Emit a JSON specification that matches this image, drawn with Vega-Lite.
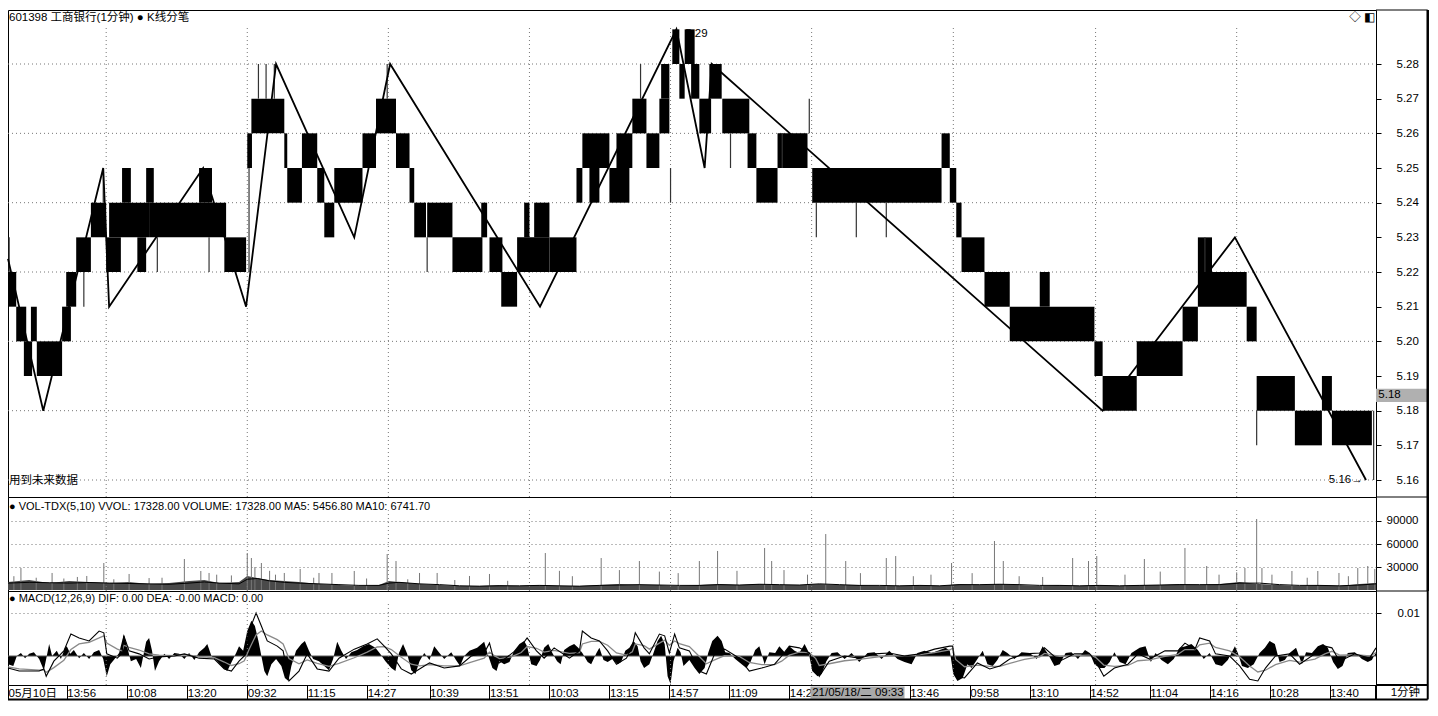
{
"$schema": "https://vega.github.io/schema/vega-lite/v6.json",
"padding": {"left": 3, "top": 8, "right": 0, "bottom": 0},
"background": "white",
"bounds": "flush",
"spacing": 0,
"config": {
  "axis": {"labelFont": "Liberation Sans", "labelFontSize": 11, "labelColor": "#000", "tickColor": "#000", "domain": false},
  "view": {"stroke": "#000", "strokeWidth": 1},
  "text": {"font": "Liberation Sans, Noto Sans CJK SC", "fontSize": 11, "align": "left", "baseline": "middle", "color": "#000"}
},
"datasets": {
  "days": [{"t":167},{"t":407},{"t":647},{"t":887},{"t":1127},{"t":1367},{"t":1608},{"t":1850},{"t":2090}],
  "pgrid": [{"t":0,"t2":2327,"p":5.16},{"t":0,"t2":2327,"p":5.18},{"t":0,"t2":2327,"p":5.20},{"t":0,"t2":2327,"p":5.22},{"t":0,"t2":2327,"p":5.24},{"t":0,"t2":2327,"p":5.26},{"t":0,"t2":2327,"p":5.28}],
  "blocks": [
{"t":0,"t2":14,"p":5.21,"p2":5.22},{"t":14,"t2":31,"p":5.20,"p2":5.21},{"t":39,"t2":49,"p":5.20,"p2":5.21},{"t":27,"t2":41,"p":5.19,"p2":5.20},{"t":49,"t2":92,"p":5.19,"p2":5.20},{"t":92,"t2":107,"p":5.20,"p2":5.21},{"t":99,"t2":116,"p":5.21,"p2":5.22},{"t":116,"t2":141,"p":5.22,"p2":5.23},{"t":141,"t2":167,"p":5.23,"p2":5.24},{"t":167,"t2":192,"p":5.22,"p2":5.23},{"t":172,"t2":240,"p":5.23,"p2":5.24},{"t":194,"t2":209,"p":5.24,"p2":5.25},{"t":220,"t2":235,"p":5.22,"p2":5.23},{"t":235,"t2":248,"p":5.24,"p2":5.25},{"t":240,"t2":371,"p":5.23,"p2":5.24},{"t":325,"t2":347,"p":5.24,"p2":5.25},{"t":368,"t2":405,"p":5.22,"p2":5.23},{"t":407,"t2":415,"p":5.25,"p2":5.26},{"t":414,"t2":470,"p":5.26,"p2":5.27},{"t":470,"t2":475,"p":5.25,"p2":5.26},{"t":475,"t2":500,"p":5.24,"p2":5.25},{"t":500,"t2":526,"p":5.25,"p2":5.26},{"t":526,"t2":538,"p":5.24,"p2":5.25},{"t":538,"t2":555,"p":5.23,"p2":5.24},{"t":555,"t2":603,"p":5.24,"p2":5.25},{"t":603,"t2":626,"p":5.25,"p2":5.26},{"t":626,"t2":660,"p":5.26,"p2":5.27},{"t":660,"t2":683,"p":5.25,"p2":5.26},{"t":683,"t2":691,"p":5.24,"p2":5.25},{"t":691,"t2":711,"p":5.23,"p2":5.24},{"t":713,"t2":756,"p":5.23,"p2":5.24},{"t":756,"t2":807,"p":5.22,"p2":5.23},{"t":805,"t2":815,"p":5.23,"p2":5.24},{"t":819,"t2":841,"p":5.22,"p2":5.23},{"t":839,"t2":866,"p":5.21,"p2":5.22},{"t":866,"t2":921,"p":5.22,"p2":5.23},{"t":878,"t2":887,"p":5.23,"p2":5.24},{"t":895,"t2":921,"p":5.23,"p2":5.24},{"t":921,"t2":967,"p":5.22,"p2":5.23},{"t":967,"t2":977,"p":5.24,"p2":5.25},{"t":977,"t2":1023,"p":5.25,"p2":5.26},{"t":989,"t2":1006,"p":5.24,"p2":5.25},{"t":1023,"t2":1057,"p":5.24,"p2":5.25},{"t":1035,"t2":1062,"p":5.25,"p2":5.26},{"t":1062,"t2":1086,"p":5.26,"p2":5.27},{"t":1086,"t2":1108,"p":5.25,"p2":5.26},{"t":1108,"t2":1125,"p":5.26,"p2":5.27},{"t":1111,"t2":1125,"p":5.27,"p2":5.28},{"t":1130,"t2":1142,"p":5.28,"p2":5.29},{"t":1142,"t2":1151,"p":5.27,"p2":5.28},{"t":1151,"t2":1168,"p":5.28,"p2":5.29},{"t":1162,"t2":1176,"p":5.27,"p2":5.28},{"t":1176,"t2":1196,"p":5.26,"p2":5.27},{"t":1193,"t2":1214,"p":5.27,"p2":5.28},{"t":1215,"t2":1261,"p":5.26,"p2":5.27},{"t":1258,"t2":1273,"p":5.25,"p2":5.26},{"t":1273,"t2":1309,"p":5.24,"p2":5.25},{"t":1309,"t2":1360,"p":5.25,"p2":5.26},{"t":1368,"t2":1588,"p":5.24,"p2":5.25},{"t":1588,"t2":1602,"p":5.25,"p2":5.26},{"t":1602,"t2":1613,"p":5.24,"p2":5.25},{"t":1613,"t2":1622,"p":5.23,"p2":5.24},{"t":1622,"t2":1661,"p":5.22,"p2":5.23},{"t":1661,"t2":1704,"p":5.21,"p2":5.22},{"t":1704,"t2":1848,"p":5.20,"p2":5.21},{"t":1755,"t2":1772,"p":5.21,"p2":5.22},{"t":1848,"t2":1862,"p":5.19,"p2":5.20},{"t":1862,"t2":1920,"p":5.18,"p2":5.19},{"t":1920,"t2":1998,"p":5.19,"p2":5.20},{"t":1998,"t2":2024,"p":5.20,"p2":5.21},{"t":2024,"t2":2107,"p":5.21,"p2":5.22},{"t":2024,"t2":2048,"p":5.22,"p2":5.23},{"t":2107,"t2":2124,"p":5.20,"p2":5.21},{"t":2124,"t2":2189,"p":5.18,"p2":5.19},{"t":2189,"t2":2235,"p":5.17,"p2":5.18},{"t":2235,"t2":2252,"p":5.18,"p2":5.19},{"t":2252,"t2":2320,"p":5.17,"p2":5.18}
  ],
  "wicks": [
{"t":2,"p":5.22,"p2":5.23},{"t":129,"p":5.21,"p2":5.22},{"t":162,"p":5.24,"p2":5.25},{"t":254,"p":5.22,"p2":5.23},{"t":342,"p":5.22,"p2":5.23},{"t":410,"p":5.22,"p2":5.25},{"t":426,"p":5.27,"p2":5.28},{"t":439,"p":5.27,"p2":5.28},{"t":453,"p":5.27,"p2":5.28},{"t":645,"p":5.27,"p2":5.28},{"t":713,"p":5.22,"p2":5.23},{"t":1076,"p":5.27,"p2":5.28},{"t":1127,"p":5.24,"p2":5.25},{"t":1229,"p":5.25,"p2":5.26},{"t":1317,"p":5.25,"p2":5.26},{"t":1363,"p":5.26,"p2":5.27},{"t":1375,"p":5.23,"p2":5.24},{"t":1443,"p":5.23,"p2":5.24},{"t":1494,"p":5.23,"p2":5.24},{"t":2036,"p":5.22,"p2":5.23},{"t":2124,"p":5.17,"p2":5.18},{"t":2323,"p":5.16,"p2":5.18}
  ],
  "bi": [{"t":0,"p":5.2238},{"t":60,"p":5.18},{"t":162,"p":5.25},{"t":172,"p":5.21},{"t":332,"p":5.25},{"t":405,"p":5.21},{"t":456,"p":5.28},{"t":589,"p":5.23},{"t":650,"p":5.28},{"t":905,"p":5.21},{"t":1137,"p":5.29},{"t":1185,"p":5.25},{"t":1197,"p":5.28},{"t":1862,"p":5.18},{"t":2087,"p":5.23},{"t":2310,"p":5.16}],
  "pnotes": [{"t":0,"p":5.29327,"txt":"601398 工商银行(1分钟) ● K线分笔"},{"t":0,"p":5.1597,"txt":"用到未来数据"},{"t":2245,"p":5.16,"txt":"5.16→"},{"t":2280,"p":5.29327,"txt":"◇ ◧"}],
  "vbase": [
{"t":0,"v":10400,"m":9000},{"t":36,"v":13000,"m":10000},{"t":70,"v":9100,"m":9500},{"t":104,"v":11700,"m":9000},{"t":138,"v":10400,"m":9800},{"t":172,"v":9100,"m":9000},{"t":206,"v":10400,"m":8500},{"t":240,"v":7800,"m":8000},{"t":274,"v":9100,"m":7500},{"t":308,"v":11700,"m":9000},{"t":334,"v":13000,"m":10500},{"t":359,"v":9100,"m":9000},{"t":393,"v":10400,"m":8000},{"t":407,"v":18300,"m":14000},{"t":424,"v":15600,"m":15000},{"t":444,"v":13000,"m":12000},{"t":470,"v":11700,"m":10000},{"t":495,"v":10400,"m":9000},{"t":529,"v":7800,"m":8000},{"t":563,"v":6500,"m":7000},{"t":597,"v":5200,"m":6000},{"t":631,"v":6500,"m":6000},{"t":648,"v":11700,"m":9000},{"t":665,"v":10400,"m":10000},{"t":700,"v":7800,"m":8000},{"t":734,"v":6500,"m":7000},{"t":768,"v":5200,"m":5500},{"t":802,"v":5200,"m":5000},{"t":836,"v":6500,"m":5500},{"t":870,"v":5200,"m":5500},{"t":904,"v":6500,"m":6000},{"t":938,"v":5200,"m":5500},{"t":972,"v":5200,"m":5000},{"t":1006,"v":6500,"m":6000},{"t":1040,"v":7800,"m":6500},{"t":1074,"v":6500,"m":7000},{"t":1108,"v":6500,"m":6500},{"t":1142,"v":5200,"m":6000},{"t":1176,"v":6500,"m":6000},{"t":1210,"v":7800,"m":7000},{"t":1244,"v":6500,"m":6500},{"t":1278,"v":7800,"m":7500},{"t":1312,"v":6500,"m":7000},{"t":1346,"v":6500,"m":6500},{"t":1380,"v":7800,"m":8000},{"t":1414,"v":6500,"m":7000},{"t":1448,"v":6500,"m":6000},{"t":1482,"v":5200,"m":6000},{"t":1516,"v":5200,"m":5500},{"t":1551,"v":6500,"m":6000},{"t":1585,"v":5200,"m":5500},{"t":1619,"v":7800,"m":7000},{"t":1653,"v":6500,"m":7000},{"t":1687,"v":7800,"m":7500},{"t":1721,"v":6500,"m":7000},{"t":1755,"v":5200,"m":6000},{"t":1789,"v":6500,"m":6000},{"t":1823,"v":5200,"m":5500},{"t":1857,"v":6500,"m":6000},{"t":1891,"v":5200,"m":5500},{"t":1925,"v":6500,"m":6000},{"t":1959,"v":6500,"m":6500},{"t":1993,"v":7800,"m":7000},{"t":2027,"v":6500,"m":7000},{"t":2061,"v":7800,"m":7000},{"t":2095,"v":10400,"m":9000},{"t":2129,"v":7800,"m":9000},{"t":2163,"v":6500,"m":7000},{"t":2197,"v":5200,"m":6000},{"t":2231,"v":6500,"m":6000},{"t":2265,"v":5200,"m":5500},{"t":2299,"v":7800,"m":6500},{"t":2327,"v":9100,"m":8000}
  ],
  "spikes": [
{"t":22,"v":28700},{"t":75,"v":22200},{"t":134,"v":18300},{"t":163,"v":35200},{"t":206,"v":20900},{"t":240,"v":15600},{"t":300,"v":40400},{"t":328,"v":24800},{"t":342,"v":22200},{"t":407,"v":48200},{"t":414,"v":41700},{"t":431,"v":35200},{"t":470,"v":22200},{"t":497,"v":27400},{"t":529,"v":22200},{"t":551,"v":22200},{"t":589,"v":24800},{"t":645,"v":46900},{"t":660,"v":37800},{"t":700,"v":22200},{"t":730,"v":22200},{"t":785,"v":18300},{"t":819,"v":20900},{"t":914,"v":48200},{"t":1009,"v":41700},{"t":1074,"v":37800},{"t":1176,"v":37800},{"t":1207,"v":50900},{"t":1287,"v":54800},{"t":1299,"v":37800},{"t":1391,"v":73000},{"t":1425,"v":37800},{"t":1494,"v":41700},{"t":1510,"v":44300},{"t":1605,"v":35200},{"t":1678,"v":63900},{"t":1693,"v":37800},{"t":1811,"v":41700},{"t":1838,"v":37800},{"t":1852,"v":44300},{"t":1933,"v":40400},{"t":2002,"v":54800},{"t":2039,"v":31300},{"t":2104,"v":28700},{"t":2124,"v":92600},{"t":2133,"v":28700},{"t":2184,"v":24800},{"t":2228,"v":24800},{"t":2264,"v":22200},{"t":2296,"v":28700},{"t":2313,"v":31300},{"t":2325,"v":27400},
{"t":10,"v":18000},{"t":48,"v":16000},{"t":95,"v":15000},{"t":118,"v":17000},{"t":180,"v":14000},{"t":262,"v":16000},{"t":355,"v":20000},{"t":380,"v":19000},{"t":420,"v":30000},{"t":445,"v":25000},{"t":455,"v":20000},{"t":520,"v":16000},{"t":610,"v":15000},{"t":680,"v":14000},{"t":760,"v":13000},{"t":850,"v":12000},{"t":938,"v":25000},{"t":960,"v":18000},{"t":1040,"v":26000},{"t":1108,"v":24000},{"t":1140,"v":22000},{"t":1240,"v":25000},{"t":1320,"v":26000},{"t":1360,"v":20000},{"t":1450,"v":22000},{"t":1540,"v":18000},{"t":1570,"v":20000},{"t":1640,"v":22000},{"t":1720,"v":18000},{"t":1760,"v":17000},{"t":1900,"v":20000},{"t":1960,"v":24000},{"t":2060,"v":20000},{"t":2090,"v":23000},{"t":2150,"v":20000},{"t":2210,"v":16000},{"t":2280,"v":18000}
  ],
  "macd": [
{"t":0,"d":-28,"e":-25},{"t":19,"d":-35,"e":-30},{"t":53,"d":-35,"e":-33},{"t":61,"d":-30,"e":-32},{"t":65,"d":-47,"e":-38},{"t":78,"d":-12,"e":-27},{"t":95,"d":12,"e":-10},{"t":107,"d":51,"e":15},{"t":121,"d":42,"e":28},{"t":138,"d":35,"e":32},{"t":155,"d":58,"e":42},{"t":163,"d":54,"e":47},{"t":168,"d":5,"e":30},{"t":186,"d":-5,"e":16},{"t":194,"d":7,"e":12},{"t":197,"d":47,"e":25},{"t":206,"d":12,"e":20},{"t":223,"d":5,"e":14},{"t":240,"d":-7,"e":5},{"t":257,"d":-2,"e":2},{"t":283,"d":0,"e":1},{"t":300,"d":5,"e":3},{"t":325,"d":-5,"e":-1},{"t":351,"d":-7,"e":-4},{"t":368,"d":-30,"e":-14},{"t":380,"d":-35,"e":-22},{"t":393,"d":-12,"e":-18},{"t":402,"d":0,"e":-11},{"t":410,"d":58,"e":15},{"t":422,"d":100,"e":49},{"t":431,"d":70,"e":58},{"t":441,"d":35,"e":49},{"t":458,"d":23,"e":38},{"t":468,"d":12,"e":28},{"t":478,"d":-58,"e":-6},{"t":495,"d":-35,"e":-18},{"t":509,"d":5,"e":-9},{"t":526,"d":-30,"e":-17},{"t":546,"d":-35,"e":-24},{"t":563,"d":-5,"e":-17},{"t":589,"d":16,"e":-4},{"t":611,"d":28,"e":9},{"t":628,"d":40,"e":21},{"t":640,"d":23,"e":22},{"t":652,"d":5,"e":15},{"t":669,"d":-30,"e":-3},{"t":686,"d":-42,"e":-19},{"t":700,"d":-30,"e":-23},{"t":717,"d":-16,"e":-20},{"t":742,"d":-28,"e":-23},{"t":768,"d":-23,"e":-23},{"t":788,"d":0,"e":-14},{"t":810,"d":7,"e":-5},{"t":819,"d":30,"e":9},{"t":827,"d":-12,"e":1},{"t":836,"d":-16,"e":-6},{"t":856,"d":5,"e":-2},{"t":873,"d":23,"e":8},{"t":883,"d":42,"e":22},{"t":899,"d":12,"e":18},{"t":912,"d":-5,"e":9},{"t":929,"d":19,"e":13},{"t":955,"d":-5,"e":6},{"t":972,"d":12,"e":8},{"t":977,"d":58,"e":28},{"t":992,"d":42,"e":34},{"t":1006,"d":35,"e":34},{"t":1020,"d":12,"e":25},{"t":1035,"d":-19,"e":7},{"t":1052,"d":-5,"e":2},{"t":1062,"d":23,"e":10},{"t":1067,"d":54,"e":28},{"t":1082,"d":19,"e":24},{"t":1091,"d":5,"e":16},{"t":1108,"d":51,"e":30},{"t":1117,"d":47,"e":37},{"t":1125,"d":7,"e":25},{"t":1134,"d":51,"e":35},{"t":1142,"d":19,"e":29},{"t":1159,"d":12,"e":22},{"t":1176,"d":-35,"e":-1},{"t":1188,"d":-42,"e":-18},{"t":1202,"d":5,"e":-9},{"t":1219,"d":16,"e":1},{"t":1244,"d":-5,"e":-1},{"t":1261,"d":-35,"e":-15},{"t":1282,"d":-28,"e":-20},{"t":1304,"d":-19,"e":-20},{"t":1316,"d":0,"e":-12},{"t":1329,"d":23,"e":2},{"t":1346,"d":19,"e":9},{"t":1363,"d":7,"e":8},{"t":1374,"d":-28,"e":-6},{"t":1380,"d":-47,"e":-22},{"t":1397,"d":-12,"e":-18},{"t":1423,"d":0,"e":-11},{"t":1448,"d":-5,"e":-8},{"t":1474,"d":5,"e":-3},{"t":1499,"d":7,"e":1},{"t":1525,"d":0,"e":1},{"t":1551,"d":5,"e":3},{"t":1576,"d":16,"e":8},{"t":1602,"d":23,"e":14},{"t":1607,"d":23,"e":18},{"t":1612,"d":-47,"e":-8},{"t":1627,"d":-51,"e":-25},{"t":1649,"d":-16,"e":-21},{"t":1670,"d":-30,"e":-24},{"t":1687,"d":-23,"e":-24},{"t":1704,"d":-7,"e":-17},{"t":1729,"d":5,"e":-8},{"t":1755,"d":7,"e":-2},{"t":1763,"d":19,"e":6},{"t":1789,"d":-12,"e":-1},{"t":1814,"d":5,"e":1},{"t":1840,"d":5,"e":3},{"t":1850,"d":-12,"e":-3},{"t":1864,"d":-47,"e":-21},{"t":1882,"d":-28,"e":-24},{"t":1905,"d":-19,"e":-22},{"t":1922,"d":5,"e":-11},{"t":1942,"d":-7,"e":-9},{"t":1968,"d":12,"e":-1},{"t":1990,"d":12,"e":4},{"t":2002,"d":30,"e":15},{"t":2019,"d":16,"e":15},{"t":2027,"d":42,"e":26},{"t":2044,"d":35,"e":30},{"t":2054,"d":5,"e":20},{"t":2078,"d":0,"e":12},{"t":2095,"d":-23,"e":-2},{"t":2112,"d":-54,"e":-23},{"t":2126,"d":-58,"e":-37},{"t":2139,"d":-28,"e":-33},{"t":2156,"d":0,"e":-20},{"t":2180,"d":5,"e":-10},{"t":2197,"d":-19,"e":-14},{"t":2223,"d":5,"e":-7},{"t":2240,"d":23,"e":5},{"t":2252,"d":19,"e":11},{"t":2265,"d":-12,"e":2},{"t":2291,"d":5,"e":3},{"t":2316,"d":-5,"e":0},{"t":2327,"d":19,"e":8}
  ],
  "hist": [
{"t":0,"h":-19},{"t":9,"h":-23},{"t":15,"h":0},{"t":22,"h":7},{"t":29,"h":-5},{"t":36,"h":5},{"t":44,"h":9},{"t":53,"h":-7},{"t":61,"h":-33},{"t":66,"h":0},{"t":70,"h":28},{"t":75,"h":0},{"t":83,"h":12},{"t":90,"h":-7},{"t":97,"h":19},{"t":100,"h":23},{"t":106,"h":5},{"t":112,"h":14},{"t":121,"h":-5},{"t":129,"h":7},{"t":138,"h":-7},{"t":146,"h":9},{"t":155,"h":14},{"t":162,"h":-7},{"t":168,"h":-47},{"t":174,"h":-19},{"t":180,"h":-9},{"t":189,"h":7},{"t":197,"h":51},{"t":203,"h":19},{"t":209,"h":-12},{"t":218,"h":-7},{"t":226,"h":-28},{"t":235,"h":33},{"t":240,"h":42},{"t":245,"h":12},{"t":250,"h":-35},{"t":257,"h":-12},{"t":266,"h":5},{"t":274,"h":-7},{"t":283,"h":7},{"t":291,"h":5},{"t":300,"h":-7},{"t":308,"h":7},{"t":317,"h":-9},{"t":325,"h":9},{"t":334,"h":19},{"t":339,"h":28},{"t":346,"h":0},{"t":356,"h":-12},{"t":366,"h":-28},{"t":373,"h":-35},{"t":381,"h":-12},{"t":388,"h":7},{"t":393,"h":23},{"t":400,"h":12},{"t":407,"h":58},{"t":414,"h":82},{"t":420,"h":70},{"t":426,"h":35},{"t":431,"h":0},{"t":436,"h":-35},{"t":441,"h":-47},{"t":448,"h":-19},{"t":456,"h":-7},{"t":465,"h":-23},{"t":471,"h":-51},{"t":477,"h":-58},{"t":482,"h":-23},{"t":490,"h":12},{"t":499,"h":28},{"t":505,"h":35},{"t":512,"h":12},{"t":519,"h":-7},{"t":529,"h":-12},{"t":538,"h":-23},{"t":546,"h":-33},{"t":553,"h":-7},{"t":560,"h":33},{"t":567,"h":12},{"t":575,"h":-7},{"t":584,"h":9},{"t":594,"h":14},{"t":604,"h":23},{"t":614,"h":28},{"t":625,"h":19},{"t":633,"h":5},{"t":642,"h":-12},{"t":652,"h":-28},{"t":659,"h":-35},{"t":665,"h":7},{"t":672,"h":28},{"t":679,"h":5},{"t":686,"h":-33},{"t":693,"h":-42},{"t":700,"h":-12},{"t":708,"h":7},{"t":717,"h":-9},{"t":725,"h":23},{"t":734,"h":7},{"t":742,"h":-7},{"t":754,"h":9},{"t":762,"h":-9},{"t":769,"h":-23},{"t":776,"h":0},{"t":785,"h":12},{"t":798,"h":19},{"t":810,"h":33},{"t":815,"h":9},{"t":824,"h":-28},{"t":831,"h":-35},{"t":836,"h":-12},
{"t":844,"h":-19},{"t":853,"h":-14},{"t":861,"h":12},{"t":870,"h":28},{"t":878,"h":35},{"t":883,"h":23},{"t":890,"h":-19},{"t":899,"h":-23},{"t":905,"h":-9},{"t":912,"h":19},{"t":919,"h":28},{"t":926,"h":7},{"t":934,"h":-12},{"t":940,"h":-19},{"t":946,"h":14},{"t":955,"h":23},{"t":963,"h":28},{"t":970,"h":19},{"t":977,"h":7},{"t":986,"h":-14},{"t":992,"h":-19},{"t":1001,"h":7},{"t":1006,"h":19},{"t":1013,"h":-9},{"t":1020,"h":-14},{"t":1028,"h":-7},{"t":1037,"h":-19},{"t":1043,"h":-14},{"t":1050,"h":12},{"t":1057,"h":19},{"t":1064,"h":35},{"t":1071,"h":23},{"t":1076,"h":-12},{"t":1082,"h":-28},{"t":1091,"h":-19},{"t":1098,"h":7},{"t":1105,"h":35},{"t":1111,"h":47},{"t":1117,"h":28},{"t":1122,"h":-47},{"t":1127,"h":-65},{"t":1132,"h":-12},{"t":1139,"h":19},{"t":1144,"h":9},{"t":1149,"h":-23},{"t":1159,"h":-9},{"t":1168,"h":-28},{"t":1176,"h":-42},{"t":1185,"h":-28},{"t":1191,"h":7},{"t":1198,"h":35},{"t":1207,"h":47},{"t":1214,"h":35},{"t":1220,"h":9},{"t":1227,"h":7},{"t":1237,"h":-7},{"t":1248,"h":-19},{"t":1256,"h":-28},{"t":1263,"h":-14},{"t":1271,"h":14},{"t":1278,"h":23},{"t":1287,"h":-19},{"t":1295,"h":9},{"t":1305,"h":7},{"t":1312,"h":23},{"t":1321,"h":9},{"t":1329,"h":23},{"t":1338,"h":12},{"t":1346,"h":7},{"t":1355,"h":28},{"t":1362,"h":9},{"t":1368,"h":-35},{"t":1377,"h":-47},{"t":1384,"h":-42},{"t":1392,"h":-12},{"t":1401,"h":7},{"t":1411,"h":9},{"t":1423,"h":-7},{"t":1435,"h":7},{"t":1448,"h":-14},{"t":1462,"h":7},{"t":1474,"h":9},{"t":1486,"h":-7},{"t":1499,"h":12},{"t":1513,"h":-7},{"t":1525,"h":-14},{"t":1537,"h":-19},{"t":1547,"h":7},{"t":1559,"h":12},{"t":1571,"h":7},{"t":1585,"h":14},{"t":1595,"h":19},{"t":1602,"h":12},{"t":1608,"h":-42},{"t":1615,"h":-58},{"t":1624,"h":-51},{"t":1632,"h":-19},{"t":1639,"h":-28},{"t":1649,"h":-7},{"t":1658,"h":12},{"t":1666,"h":-19},{"t":1675,"h":-23},{"t":1683,"h":-9},{"t":1692,"h":14},{"t":1700,"h":7},{"t":1712,"h":-7},{"t":1724,"h":9},{"t":1738,"h":7},{"t":1750,"h":-7},{"t":1760,"h":23},{"t":1768,"h":7},{"t":1780,"h":-23},{"t":1789,"h":-19},{"t":1799,"h":7},{"t":1809,"h":9},{"t":1820,"h":-7},{"t":1832,"h":14},{"t":1840,"h":7},{"t":1848,"h":-19},{"t":1857,"h":-28},{"t":1865,"h":-28},{"t":1874,"h":-14},{"t":1882,"h":9},{"t":1891,"h":-14},{"t":1901,"h":-19},{"t":1911,"h":7},{"t":1925,"h":19},{"t":1935,"h":23},{"t":1944,"h":-14},{"t":1952,"h":7},{"t":1962,"h":-9},{"t":1973,"h":-19},{"t":1983,"h":-7},{"t":1993,"h":19},{"t":2003,"h":23},{"t":2013,"h":28},{"t":2024,"h":14},{"t":2034,"h":-7},{"t":2044,"h":7},{"t":2054,"h":-19},{"t":2065,"h":-23},{"t":2075,"h":-9},{"t":2087,"h":23},{"t":2092,"h":7},{"t":2099,"h":-23},{"t":2109,"h":-28},{"t":2119,"h":-19},{"t":2129,"h":7},{"t":2138,"h":19},{"t":2146,"h":35},{"t":2155,"h":28},{"t":2163,"h":-14},{"t":2172,"h":-9},{"t":2180,"h":7},{"t":2191,"h":19},{"t":2201,"h":-19},{"t":2208,"h":9},{"t":2218,"h":7},{"t":2228,"h":23},{"t":2237,"h":28},{"t":2245,"h":19},{"t":2254,"h":-14},{"t":2262,"h":-30},{"t":2270,"h":-23},{"t":2279,"h":7},{"t":2291,"h":9},{"t":2303,"h":-7},{"t":2313,"h":-14},{"t":2320,"h":-9},{"t":2327,"h":9}
  ]
},
"vconcat": [
{
  "width": 1368, "height": 487,
  "layer": [
    {"data": {"name": "pgrid"}, "mark": {"type": "rule", "color": "#777", "strokeDash": [1, 3], "strokeWidth": 1},
     "encoding": {"x": {"field": "t", "type": "quantitative", "scale": {"domain": [0, 2327], "nice": false, "zero": false}, "axis": null},
                  "x2": {"field": "t2"},
                  "y": {"field": "p", "type": "quantitative", "title": null, "scale": {"domain": [5.1551, 5.29558], "nice": false, "zero": false},
                        "axis": {"orient": "right", "values": [5.16,5.17,5.18,5.19,5.2,5.21,5.22,5.23,5.24,5.25,5.26,5.27,5.28], "format": ".2f", "tickSize": 5, "labelPadding": 15, "grid": false, "title": null, "labelFontSize": 11.5, "zindex": 1}}}},
    {"data": {"name": "days"}, "mark": {"type": "rule", "color": "#777", "strokeDash": [1, 3], "strokeWidth": 1},
     "encoding": {"x": {"field": "t", "type": "quantitative"}, "y": {"datum": 5.1551}, "y2": {"datum": 5.291}}},
    {"data": {"values": [{"t": 1152, "p": 5.28865, "txt": "5.29"}]}, "mark": {"type": "text", "fontSize": 11.5},
     "encoding": {"x": {"field": "t", "type": "quantitative"}, "y": {"field": "p", "type": "quantitative"}, "text": {"field": "txt"}}},
    {"data": {"name": "blocks"}, "mark": {"type": "rect", "color": "#000"},
     "encoding": {"x": {"field": "t", "type": "quantitative"}, "x2": {"field": "t2"}, "y": {"field": "p", "type": "quantitative"}, "y2": {"field": "p2"}}},
    {"data": {"name": "wicks"}, "mark": {"type": "rule", "color": "#333", "strokeWidth": 1.2},
     "encoding": {"x": {"field": "t", "type": "quantitative"}, "y": {"field": "p", "type": "quantitative"}, "y2": {"field": "p2"}}},
    {"data": {"name": "bi"}, "mark": {"type": "line", "color": "#000", "strokeWidth": 1.8},
     "encoding": {"x": {"field": "t", "type": "quantitative"}, "y": {"field": "p", "type": "quantitative"}}},
    {"data": {"name": "pnotes"}, "mark": {"type": "text", "fontSize": 11.5, "dx": 1},
     "encoding": {"x": {"field": "t", "type": "quantitative"}, "y": {"field": "p", "type": "quantitative"}, "text": {"field": "txt"}}},
    {"data": {"values": [{"t": 2327, "t2": 2415, "p": 5.1825, "p2": 5.1863}]}, "mark": {"type": "rect", "color": "#b0b0b0"},
     "encoding": {"x": {"field": "t", "type": "quantitative"}, "x2": {"field": "t2"}, "y": {"field": "p", "type": "quantitative"}, "y2": {"field": "p2"}}},
    {"data": {"values": [{"t": 2331, "p": 5.1844, "txt": "5.18"}]}, "mark": {"type": "text", "fontSize": 11.5},
     "encoding": {"x": {"field": "t", "type": "quantitative"}, "y": {"field": "p", "type": "quantitative"}, "text": {"field": "txt"}}},
    {"data": {"values": [{"t": 2415, "p": 5.1551, "p2": 5.29558}]}, "mark": {"type": "rule", "color": "#000", "strokeWidth": 2.5},
     "encoding": {"x": {"field": "t", "type": "quantitative"}, "y": {"field": "p", "type": "quantitative"}, "y2": {"field": "p2"}}},
    {"data": {"values": [{"t": 2327, "t2": 2415, "p": 5.29558}, {"t": 2327, "t2": 2415, "p": 5.1551}]}, "mark": {"type": "rule", "color": "#000", "strokeWidth": 1},
     "encoding": {"x": {"field": "t", "type": "quantitative"}, "x2": {"field": "t2"}, "y": {"field": "p", "type": "quantitative"}}}
  ]
},
{
  "width": 1368, "height": 94,
  "layer": [
    {"data": {"name": "vbase"}, "mark": {"type": "area", "color": "#4a4a4a"},
     "encoding": {"x": {"field": "t", "type": "quantitative", "scale": {"domain": [0, 2327], "nice": false, "zero": false}, "axis": null},
                  "y": {"field": "v", "type": "quantitative", "title": null, "scale": {"domain": [-1304, 121304], "nice": false, "zero": false},
                        "axis": {"orient": "right", "values": [30000, 60000, 90000], "format": "d", "tickSize": 5, "labelPadding": 5, "grid": true, "gridColor": "#777", "gridDash": [1, 3], "title": null, "labelFontSize": 11.5, "zindex": 1}},
                  "y2": {"datum": 0}}},
    {"data": {"name": "days"}, "mark": {"type": "rule", "color": "#777", "strokeDash": [1, 3], "strokeWidth": 1},
     "encoding": {"x": {"field": "t", "type": "quantitative"}, "y": {"datum": -1304}, "y2": {"datum": 104000}}},
    {"data": {"name": "spikes"}, "mark": {"type": "rule", "color": "#777", "strokeWidth": 1},
     "encoding": {"x": {"field": "t", "type": "quantitative"}, "y": {"field": "v", "type": "quantitative"}, "y2": {"datum": 0}}},
    {"data": {"name": "vbase"}, "mark": {"type": "line", "color": "#000", "strokeWidth": 1},
     "encoding": {"x": {"field": "t", "type": "quantitative"}, "y": {"field": "m", "type": "quantitative"}}},
    {"data": {"values": [{"t": 0, "v": 108260, "txt": "● VOL-TDX(5,10) VVOL: 17328.00  VOLUME: 17328.00 MA5: 5456.80 MA10: 6741.70"}]}, "mark": {"type": "text", "dx": 1},
     "encoding": {"x": {"field": "t", "type": "quantitative"}, "y": {"field": "v", "type": "quantitative"}, "text": {"field": "txt"}}},
    {"data": {"values": [{"t": 2415, "v": -1304, "v2": 121304}]}, "mark": {"type": "rule", "color": "#000", "strokeWidth": 2.5},
     "encoding": {"x": {"field": "t", "type": "quantitative"}, "y": {"field": "v", "type": "quantitative"}, "y2": {"field": "v2"}}},
    {"data": {"values": [{"t": 2327, "t2": 2415, "v": -1304}]}, "mark": {"type": "rule", "color": "#000", "strokeWidth": 1},
     "encoding": {"x": {"field": "t", "type": "quantitative"}, "x2": {"field": "t2"}, "y": {"field": "v", "type": "quantitative"}}}
  ]
},
{
  "width": 1368, "height": 94,
  "layer": [
    {"data": {"name": "hist"}, "mark": {"type": "area", "color": "#000"},
     "encoding": {"x": {"field": "t", "type": "quantitative", "scale": {"domain": [0, 2327], "nice": false, "zero": false},
          "axis": {"orient": "bottom", "values": [0,100,203,305,407,509,611,717,819,921,1023,1125,1227,1329,1534,1636,1738,1840,1942,2044,2146,2248],
                   "labelExpr": "['05月10日','13:56','10:08','13:20','09:32','11:15','14:27','10:39','13:51','10:03','13:15','14:57','11:09','14:2','13:46','09:58','13:10','14:52','11:04','14:16','10:28','13:40'][indexof([0,100,203,305,407,509,611,717,819,921,1023,1125,1227,1329,1534,1636,1738,1840,1942,2044,2146,2248], datum.value)]",
                   "tickSize": 14, "labelPadding": -12, "labelAlign": "left", "labelDx": 2, "labelBaseline": "top", "labelFont": "Liberation Sans, Noto Sans CJK SC", "labelFontSize": 11.5, "labelOverlap": false, "labelFlush": false, "grid": false, "title": null}},
        "y": {"field": "h", "type": "quantitative", "title": null, "scale": {"domain": [-67.4, 151.2], "nice": false, "zero": false},
        "axis": {"orient": "right", "values": [100], "labelExpr": "format(datum.value/10000, '.2f')", "tickSize": 5, "labelPadding": 16, "grid": true, "gridColor": "#777", "gridDash": [1, 3], "title": null, "labelFontSize": 11.5, "zindex": 1}},
        "y2": {"datum": 0}}},
    {"data": {"name": "days"}, "mark": {"type": "rule", "color": "#777", "strokeDash": [1, 3], "strokeWidth": 1},
     "encoding": {"x": {"field": "t", "type": "quantitative"}, "y": {"datum": -67.4}, "y2": {"datum": 125}}},
    {"data": {"values": [{"t": 0, "t2": 2327, "h": 0}]}, "mark": {"type": "rule", "color": "#555", "strokeWidth": 1},
     "encoding": {"x": {"field": "t", "type": "quantitative"}, "x2": {"field": "t2"}, "y": {"field": "h", "type": "quantitative"}}},
    {"data": {"name": "macd"}, "mark": {"type": "line", "color": "#8a8a8a", "strokeWidth": 1.3},
     "encoding": {"x": {"field": "t", "type": "quantitative"}, "y": {"field": "e", "type": "quantitative"}}},
    {"data": {"name": "macd"}, "mark": {"type": "line", "color": "#000", "strokeWidth": 1.1},
     "encoding": {"x": {"field": "t", "type": "quantitative"}, "y": {"field": "d", "type": "quantitative"}}},
    {"data": {"values": [{"t": 0, "h": 133, "txt": "● MACD(12,26,9) DIF: 0.00 DEA: -0.00 MACD: 0.00"}]}, "mark": {"type": "text", "dx": 1},
     "encoding": {"x": {"field": "t", "type": "quantitative"}, "y": {"field": "h", "type": "quantitative"}, "text": {"field": "txt"}}},
    {"data": {"values": [{"t": 1365, "t2": 1525, "h": -71, "h2": -99}]}, "mark": {"type": "rect", "color": "#a8a8a8"},
     "encoding": {"x": {"field": "t", "type": "quantitative"}, "x2": {"field": "t2"}, "y": {"field": "h", "type": "quantitative"}, "y2": {"field": "h2"}}},
    {"data": {"values": [{"t": 1368, "h": -86, "txt": "21/05/18/二 09:33"}, {"t": 2352, "h": -86, "txt": "1分钟"}]}, "mark": {"type": "text", "fontSize": 11.5},
     "encoding": {"x": {"field": "t", "type": "quantitative"}, "y": {"field": "h", "type": "quantitative"}, "text": {"field": "txt"}}},
    {"data": {"values": [{"t": 2415, "h": -101, "h2": 151.2}, {"t": 2327, "h": -67.4, "h2": -101}]}, "mark": {"type": "rule", "color": "#000", "strokeWidth": 2},
     "encoding": {"x": {"field": "t", "type": "quantitative"}, "y": {"field": "h", "type": "quantitative"}, "y2": {"field": "h2"}}},
    {"data": {"values": [{"t": 0, "t2": 2415, "h": -101}, {"t": 2327, "t2": 2415, "h": -67.4}]}, "mark": {"type": "rule", "color": "#000", "strokeWidth": 2},
     "encoding": {"x": {"field": "t", "type": "quantitative"}, "x2": {"field": "t2"}, "y": {"field": "h", "type": "quantitative"}}}
  ]
}
]
}
